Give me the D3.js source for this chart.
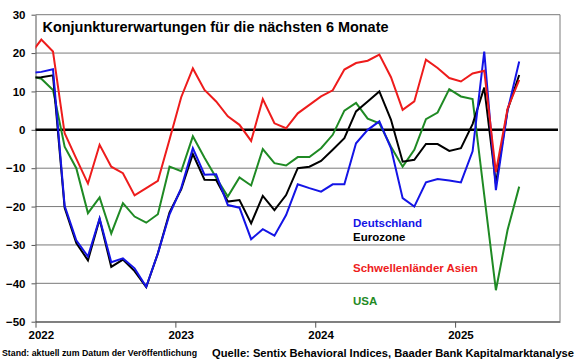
<!DOCTYPE html>
<html lang="de">
    <head>
        <meta charset="utf-8">
        <title>Konjunkturerwartungen</title>
        <script type="text/javascript" src="https://d3js.org/d3.v7.min.js"></script>
        <style type="text/css">
            body { margin: 0; background: #fff; }
            text { font-family: "Liberation Sans", Arial, sans-serif; font-weight: bold; }
        </style>
    </head>
    <body>
        <script type="text/javascript">

        const width = 580;
        const height = 359;
        const plotLeft = 35.5, plotRight = 560, plotTop = 14.7, plotBottom = 321.7;

        // Data: monthly, Dec 2021 (index -1, clipped) .. Jun 2025 (index 41)
        const months = d3.range(-1, 42);
        const yearLabels = ["2022", "2023", "2024", "2025"];
        const yTicks = [30, 20, 10, 0, -10, -20, -30, -40, -50];

        const deutschland = [14.8, 15.1, 15.8, -19.8, -28.8, -33, -23.1, -34.5, -33.5, -36.1, -40.9, -32.2,
            -22, -15.2, -4.8, -11.7, -11.6, -19.6, -20.3, -28.5, -25.9, -27.6, -22.2, -14.2, -15.2, -16.1,
            -14.2, -14.2, -3.5, 0, 2.2, -4.8, -17.8, -20.0, -13.7, -12.8, -13.2, -13.7, -5.6, 20.4, -15.7, 5, 17.8];
        const eurozone = [13.6, 13.7, 14.2, -20.3, -29.5, -34, -23.3, -35.7, -33.8, -36.8, -41, -32.2,
            -21.5, -15.5, -6.3, -13, -13.1, -18.7, -18.3, -24.4, -17.2, -20.9, -17, -10, -9.6, -8.1,
            -5.2, -2.2, 4.8, 7.4, 10.0, 2.6, -8.3, -7.8, -3.7, -3.7, -5.5, -4.8, 1.5, 11, -14, 5.2, 14.3];
        const asien = [19.5, 23.5, 20.4, -0.9, -7.5, -14, -3.9, -9.6, -11.3, -17.1, -15.2, -13.3,
            -2.5, 8.5, 16, 10.4, 7.4, 3.5, 1.3, -2.9, 8.0, 1.7, 0.4, 4.3, 6.5, 8.7,
            10.3, 15.7, 17.4, 18.0, 19.6, 13.7, 5.2, 7.4, 18.3, 16.1, 13.5, 12.6, 14.7, 15.4, -11, 5.5, 13];
        const usa = [14, 13.3, 10.4, -4.4, -10, -21.7, -17.6, -27, -19.1, -22.6, -24.2, -22,
            -9.6, -10.8, -1.7, -7.3, -12.5, -17.4, -12.4, -14.5, -5.0, -8.7, -9.3, -7.1, -7.1, -4.8,
            -1.3, 5.0, 7.0, 2.9, 1.7, -4.4, -9.6, -5.2, 2.8, 4.5, 10.6, 8.7, 8.0, -17, -41.8, -26.1, -14.8];

        const series = [
            {name: "USA", values: usa, color: "#1f8a24", y: 301},
            {name: "Eurozone", values: eurozone, color: "#000000", y: 236.7},
            {name: "Deutschland", values: deutschland, color: "#1414e6", y: 223.3},
            {name: "Schwellenländer Asien", values: asien, color: "#ee1c1c", y: 267.7}
        ];

        //Scales
        const xScale = d3.scaleLinear().domain([-0.5, 44.5]).range([plotLeft, plotRight]);
        const yScale = d3.scaleLinear().domain([-50, 30]).range([plotBottom, plotTop]);

        //SVG
        const svg = d3.select("body")
                    .append("svg")
                    .attr("width", width)
                    .attr("height", height);

        svg.append("rect").attr("width", width).attr("height", height).attr("fill", "#fff");

        svg.append("clipPath").attr("id", "plot")
            .append("rect")
            .attr("x", plotLeft).attr("y", plotTop)
            .attr("width", plotRight - plotLeft).attr("height", plotBottom - plotTop);

        //Grid
        svg.append("g")
            .selectAll("line")
            .data(yTicks.filter(d => d !== 0))
            .enter()
            .append("line")
            .attr("x1", plotLeft).attr("x2", plotRight)
            .attr("y1", d => yScale(d)).attr("y2", d => yScale(d))
            .attr("stroke", "#7a7a7a").attr("stroke-width", 1);

        svg.append("line")
            .attr("x1", plotRight).attr("x2", plotRight)
            .attr("y1", plotTop).attr("y2", plotBottom)
            .attr("stroke", "#7a7a7a");

        //Axes
        const leftAxis = d3.axisLeft(yScale)
                            .tickValues(yTicks)
                            .tickSize(4)
                            .tickSizeOuter(0)
                            .tickPadding(6);
        const gy = svg.append("g")
            .attr("transform", "translate(" + plotLeft + ",0)")
            .call(leftAxis);
        gy.select(".domain").attr("stroke", "#555");
        gy.selectAll(".tick line").attr("stroke", "#555");
        gy.selectAll("text").attr("font-size", 11.5).attr("fill", "#000")
            .attr("font-family", "Liberation Sans, Arial, sans-serif");

        const bottomAxis = d3.axisBottom(xScale)
                            .tickValues([-0.5, 11.5, 23.5, 35.5])
                            .tickSize(6)
                            .tickSizeOuter(0)
                            .tickFormat("");
        const gx = svg.append("g")
            .attr("transform", "translate(0," + plotBottom + ")")
            .call(bottomAxis);
        gx.select(".domain").attr("stroke", "#555");
        gx.selectAll(".tick line").attr("stroke", "#555");

        svg.append("g")
            .selectAll("text")
            .data(yearLabels)
            .enter()
            .append("text")
            .attr("x", (d, i) => xScale(i * 12))
            .attr("y", 338.5)
            .attr("text-anchor", "middle")
            .attr("font-size", 11.5)
            .text(d => d);

        //Zero line
        svg.append("line")
            .attr("x1", plotLeft).attr("x2", plotRight - 2)
            .attr("y1", yScale(0)).attr("y2", yScale(0))
            .attr("stroke", "#000").attr("stroke-width", 2.5);

        //Lines
        const line = d3.line()
            .x((d, i) => xScale(months[i]))
            .y(d => yScale(d));

        svg.append("g")
            .attr("clip-path", "url(#plot)")
            .selectAll("path")
            .data(series)
            .enter()
            .append("path")
            .attr("d", d => line(d.values))
            .attr("fill", "none")
            .attr("stroke", d => d.color)
            .attr("stroke-width", 2)
            .attr("stroke-linejoin", "miter");

        //Legend
        svg.append("g")
            .selectAll("text")
            .data(series)
            .enter()
            .append("text")
            .attr("x", 353)
            .attr("y", d => d.y + 4)
            .attr("font-size", 11.5)
            .attr("fill", d => d.color)
            .text(d => d.name);

        //Title and notes
        svg.append("text")
            .attr("x", 42.5).attr("y", 31.5)
            .attr("font-size", 14.2)
            .attr("textLength", 346)
            .attr("lengthAdjust", "spacingAndGlyphs")
            .text("Konjunkturerwartungen für die nächsten 6 Monate");

        svg.append("text")
            .attr("x", 2).attr("y", 355.5)
            .attr("font-size", 8.6)
            .attr("textLength", 195)
            .attr("lengthAdjust", "spacingAndGlyphs")
            .text("Stand: aktuell zum Datum der Veröffentlichung");

        svg.append("text")
            .attr("x", 212).attr("y", 356.5)
            .attr("font-size", 10.9)
            .attr("textLength", 362)
            .attr("lengthAdjust", "spacingAndGlyphs")
            .text("Quelle: Sentix Behavioral Indices, Baader Bank Kapitalmarktanalyse");

        </script>
    </body>
</html>
